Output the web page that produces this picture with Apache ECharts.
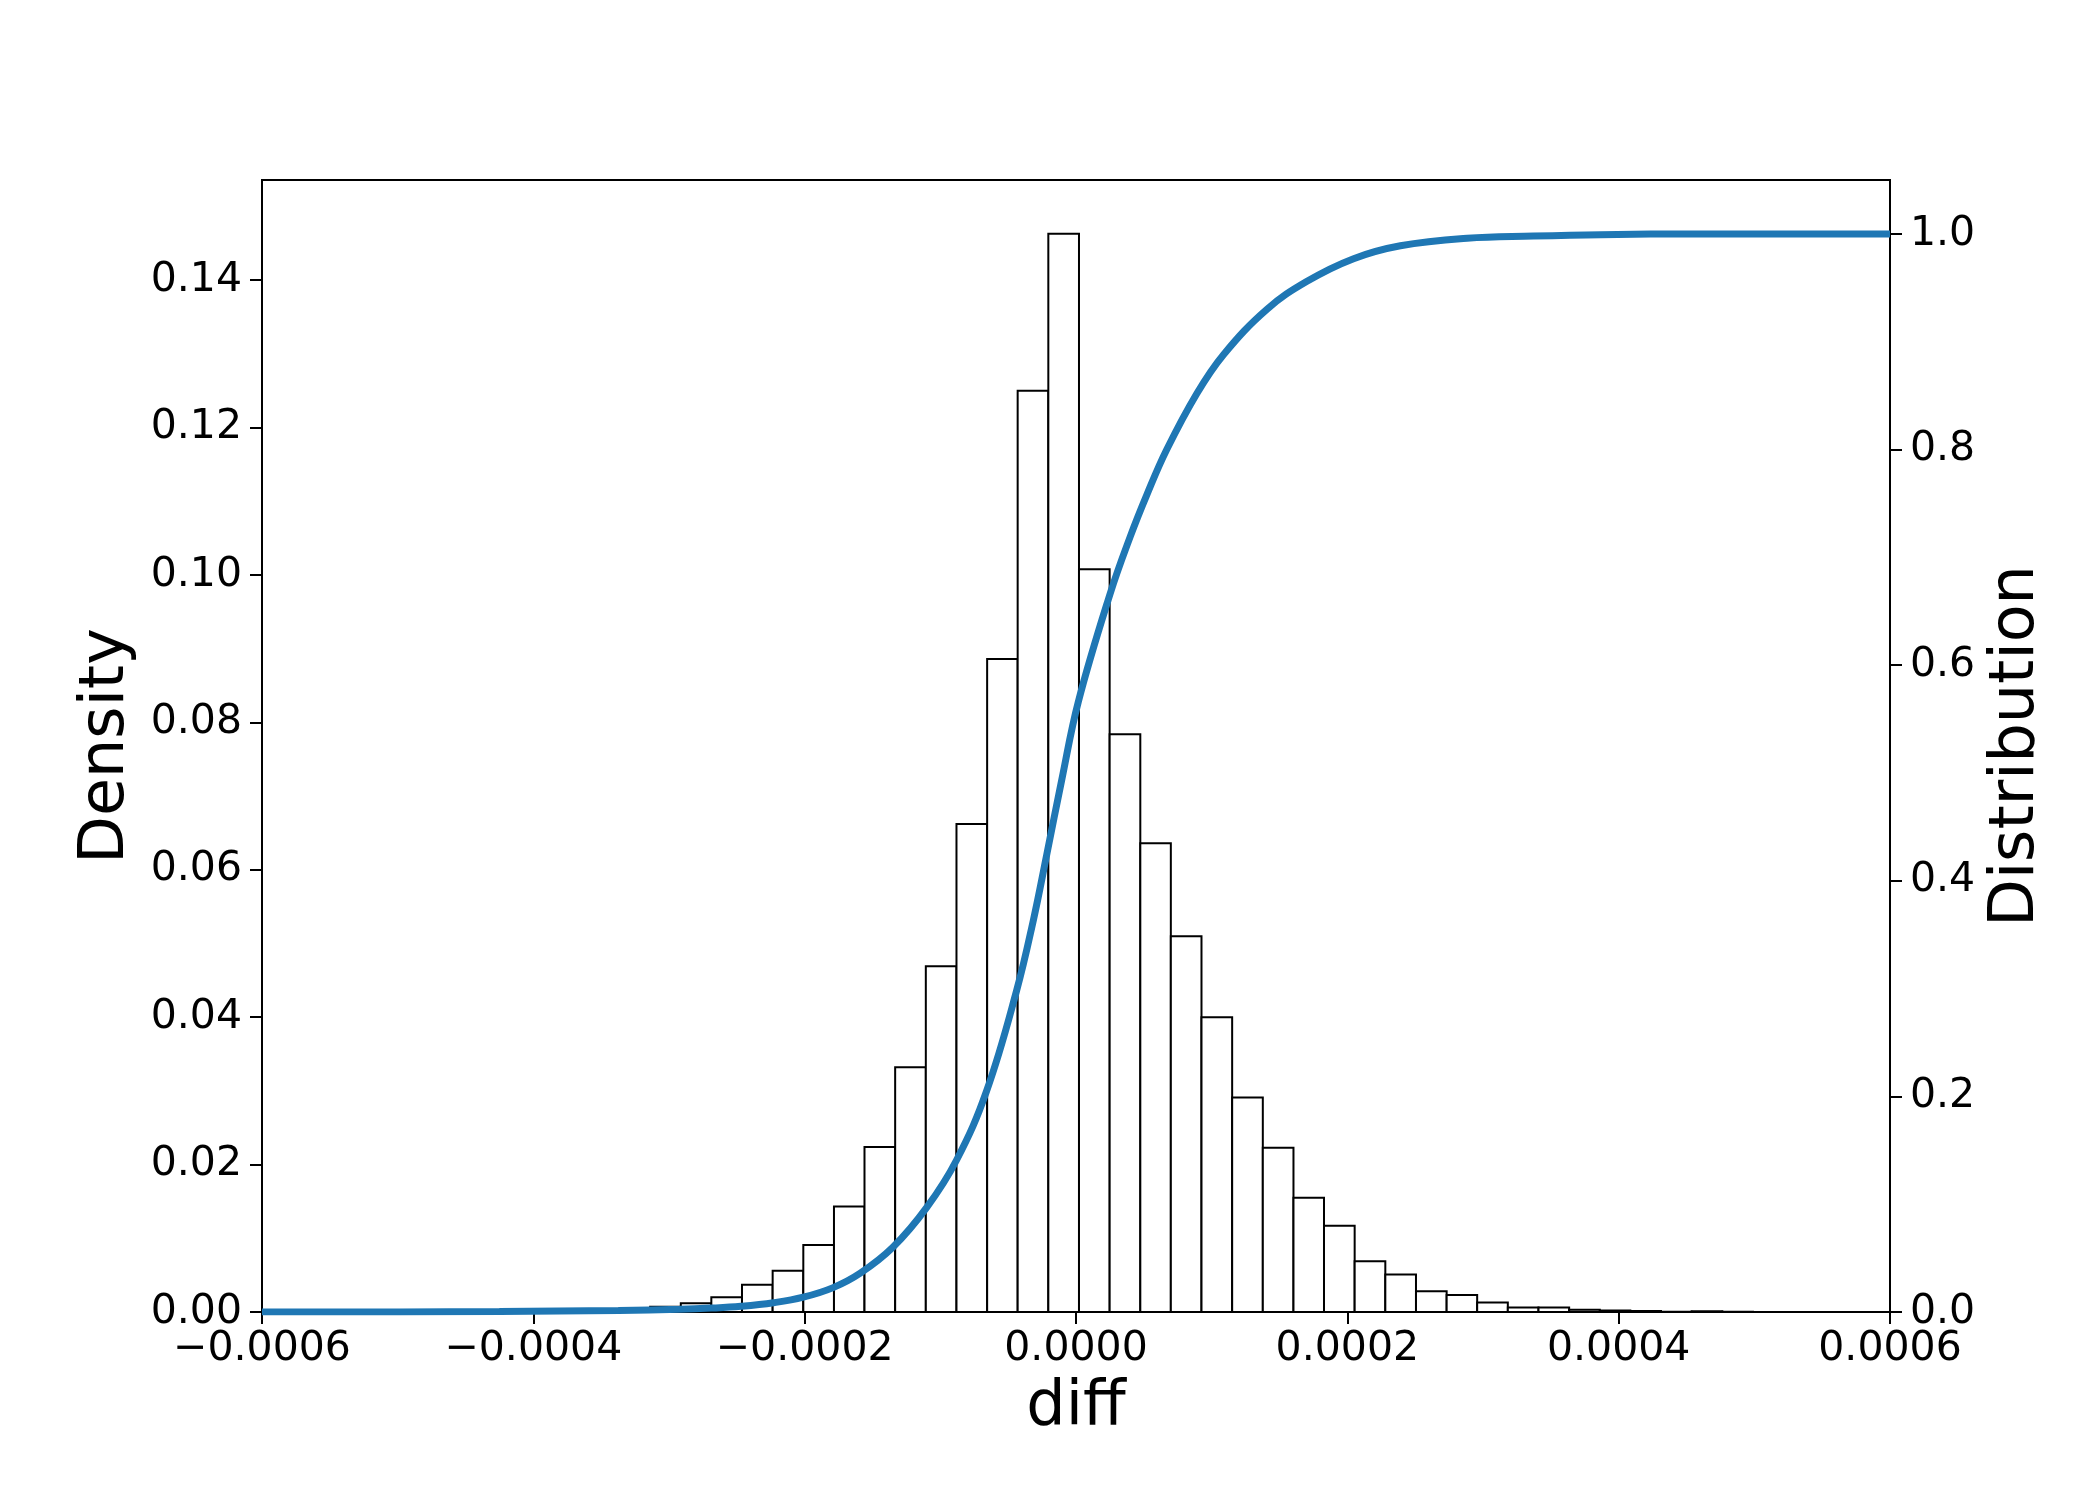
<!DOCTYPE html>
<html>
<head>
<meta charset="utf-8">
<script src="https://cdn.jsdelivr.net/npm/echarts@6/dist/echarts.min.js"></script>
<style>
    html, body { margin: 0; padding: 0; background: #fff; }
    #main { width: 2100px; height: 1500px; }
</style>
</head>
<body>
<div id="main"></div>
<script>
// histogram bin edges (diff) and bar heights (Density)
var binEdges = [
    -3.817e-4, -3.591e-4, -3.365e-4, -3.139e-4, -2.913e-4, -2.688e-4, -2.462e-4, -2.236e-4,
    -2.010e-4, -1.784e-4, -1.559e-4, -1.333e-4, -1.107e-4, -0.881e-4, -0.655e-4, -0.430e-4,
    -0.204e-4, 0.022e-4, 0.248e-4, 0.474e-4, 0.699e-4, 0.925e-4, 1.151e-4, 1.377e-4,
    1.603e-4, 1.828e-4, 2.054e-4, 2.280e-4, 2.506e-4, 2.732e-4, 2.957e-4, 3.183e-4,
    3.409e-4, 3.635e-4, 3.861e-4, 4.086e-4, 4.312e-4, 4.538e-4, 4.764e-4, 4.990e-4
];
var density = [
    0.0001, 0.0002, 0.0005, 0.0007, 0.0012, 0.0020, 0.0037, 0.0056,
    0.0091, 0.0143, 0.0224, 0.0332, 0.0469, 0.0662, 0.0886, 0.1250,
    0.1463, 0.1008, 0.0784, 0.0636, 0.0510, 0.0400, 0.0291, 0.0223,
    0.0155, 0.0117, 0.0069, 0.0051, 0.0028, 0.0023, 0.0013, 0.0006,
    0.0006, 0.0003, 0.0002, 0.00015, 0.00005, 0.0001, 0.00005
];

// cumulative distribution curve
var cdfX = [
    -6.0e-4, -4.99e-4, -4.25e-4, -3.81e-4, -3.37e-4, -2.92e-4, -2.69e-4, -2.47e-4,
    -2.23e-4, -2.01e-4, -1.79e-4, -1.59e-4, -1.35e-4, -1.10e-4, -0.88e-4, -0.659e-4,
    -0.438e-4, -0.315e-4, -0.216e-4, -0.106e-4, 0.017e-4, 0.251e-4, 0.399e-4, 0.522e-4,
    0.669e-4, 0.891e-4, 1.087e-4, 1.407e-4, 1.703e-4, 2.046e-4, 2.391e-4, 2.883e-4,
    3.373e-4, 3.867e-4, 4.605e-4, 6.0e-4
];
var cdfY = [
    0, 0.0001, 0.0004, 0.0009, 0.0015, 0.0025, 0.0036, 0.0053,
    0.0086, 0.0137, 0.0226, 0.0360, 0.0600, 0.0970, 0.1410, 0.2050,
    0.2980, 0.3630, 0.4240, 0.4930, 0.5660, 0.6660, 0.7190, 0.7580,
    0.8000, 0.8520, 0.8880, 0.9300, 0.9560, 0.9770, 0.9890, 0.9960,
    0.9980, 0.9993, 1.0, 1.0
];

var xTicks = [-0.0006, -0.0004, -0.0002, 0, 0.0002, 0.0004, 0.0006];
var densityTicks = [0, 0.02, 0.04, 0.06, 0.08, 0.10, 0.12, 0.14];
var distTicks = [0, 0.2, 0.4, 0.6, 0.8, 1.0];

var font = 'DejaVu Sans';
var myChart = echarts.init(document.getElementById('main'));

var barData = [];
density.forEach(function (d, i) {
    barData.push([binEdges[i], binEdges[i + 1], d]);
});
var lineData = cdfX.map(function (x, i) { return [x, cdfY[i]]; });

function minusFmt(v, n) {
    var s = Math.abs(v).toFixed(n);
    return v < -1e-12 ? '\u2212' + s : s;
}

var tickStyle = { show: true, inside: false, length: 12, lineStyle: { color: '#000', width: 2 } };
var lineStyleAxis = { show: true, onZero: false, lineStyle: { color: '#000', width: 2 } };

var option = {
    animation: false,
    backgroundColor: '#fff',
    grid: {
        left: 262, right: 210, top: 180, bottom: 188,
        show: true, borderColor: '#000', borderWidth: 2, backgroundColor: 'transparent'
    },
    xAxis: {
        type: 'value',
        min: -0.0006, max: 0.0006, interval: 0.0002,
        name: 'diff',
        nameLocation: 'middle',
        nameGap: 65,
        nameTextStyle: { fontFamily: font, fontSize: 62, color: '#000' },
        axisLine: lineStyleAxis,
        axisTick: Object.assign({ customValues: xTicks }, tickStyle),
        splitLine: { show: false },
        axisLabel: {
            customValues: xTicks,
            margin: 17,
            fontFamily: font, fontSize: 41, color: '#000',
            formatter: function (v) { return minusFmt(v, 4); }
        }
    },
    yAxis: [
        {
            type: 'value',
            min: 0, max: 0.1536,
            position: 'left',
            name: 'Density',
            nameLocation: 'middle',
            nameRotate: 90,
            nameGap: 124,
            nameTextStyle: { fontFamily: font, fontSize: 62, color: '#000' },
            axisLine: lineStyleAxis,
            axisTick: Object.assign({ customValues: densityTicks }, tickStyle),
            splitLine: { show: false },
            axisLabel: {
                customValues: densityTicks,
                margin: 20,
                fontFamily: font, fontSize: 41, color: '#000',
                formatter: function (v) { return v.toFixed(2); }
            }
        },
        {
            type: 'value',
            min: 0, max: 1.05,
            position: 'right',
            name: 'Distribution',
            nameLocation: 'middle',
            nameRotate: 90,
            nameGap: 88,
            nameTextStyle: { fontFamily: font, fontSize: 62, color: '#000' },
            axisLine: lineStyleAxis,
            axisTick: Object.assign({ customValues: distTicks }, tickStyle),
            splitLine: { show: false },
            axisLabel: {
                customValues: distTicks,
                margin: 20,
                fontFamily: font, fontSize: 41, color: '#000',
                formatter: function (v) { return v.toFixed(1); }
            }
        }
    ],
    series: [
        {
            name: 'Density',
            type: 'custom',
            xAxisIndex: 0,
            yAxisIndex: 0,
            data: barData,
            encode: { x: [0, 1], y: 2 },
            renderItem: function (params, api) {
                var p0 = api.coord([api.value(0), api.value(2)]);
                var p1 = api.coord([api.value(1), 0]);
                return {
                    type: 'rect',
                    shape: { x: p0[0], y: p0[1], width: p1[0] - p0[0], height: p1[1] - p0[1] },
                    style: { fill: '#fff', stroke: '#000', lineWidth: 2 }
                };
            },
            z: 2
        },
        {
            name: 'Distribution',
            type: 'line',
            xAxisIndex: 0,
            yAxisIndex: 1,
            data: lineData,
            showSymbol: false,
            smooth: 0.4,
            lineStyle: { color: '#1f77b4', width: 7 },
            z: 3
        }
    ]
};
myChart.setOption(option);
window.addEventListener('resize', function () { myChart.resize(); });
</script>
</body>
</html>
